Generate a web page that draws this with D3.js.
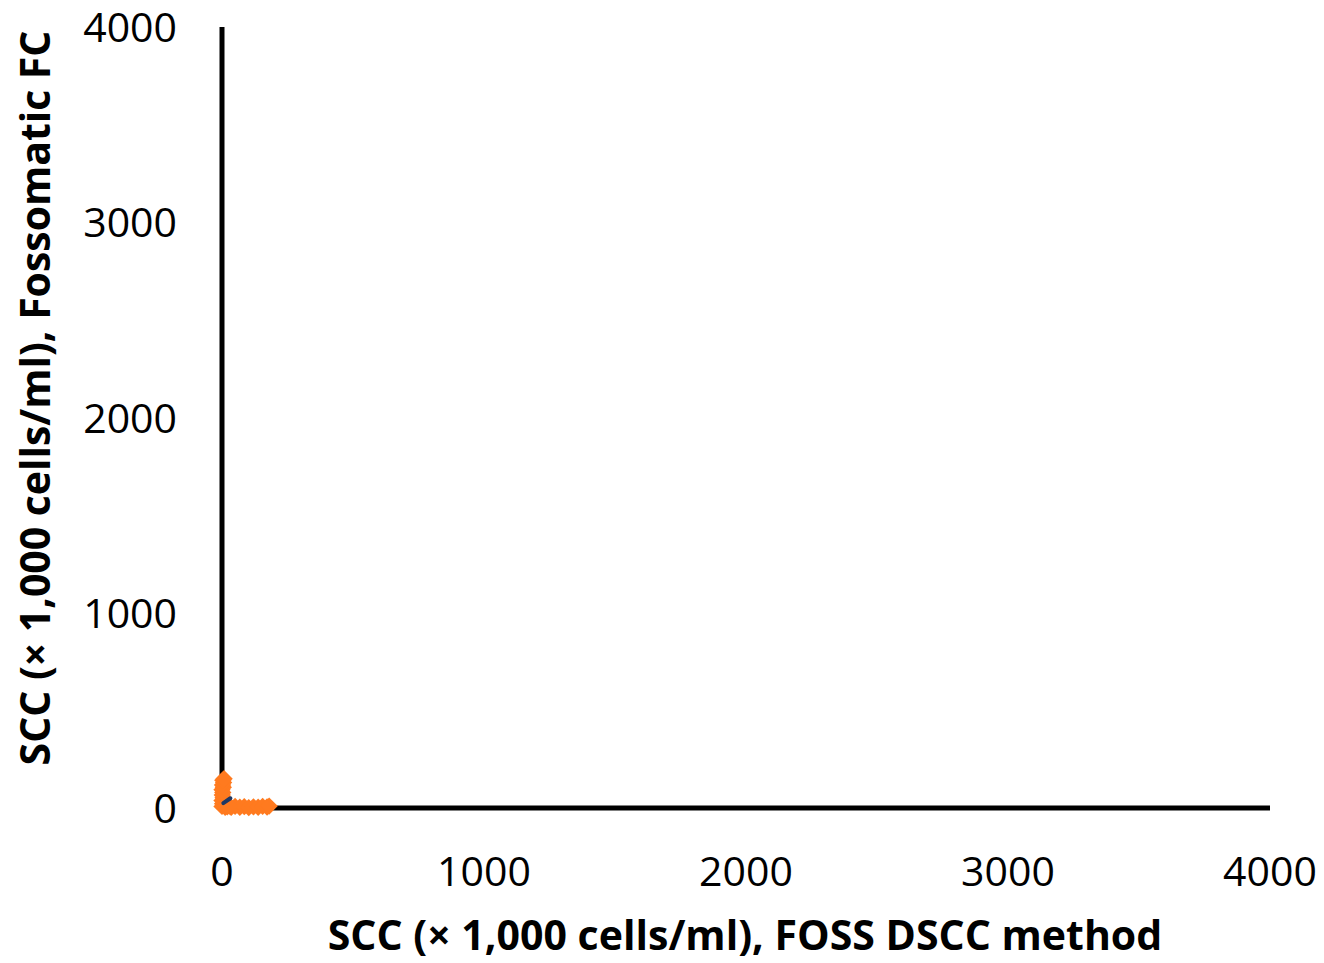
<!DOCTYPE html>
<html><head><meta charset="utf-8">
<script src="https://cdn.jsdelivr.net/npm/d3@7"></script>
<style>body{margin:0;background:#fff}svg{display:block}</style>
</head><body>
<svg id="c" width="1324" height="963"></svg>
<script>
const xTicks = [0, 1000, 2000, 3000, 4000];
const yTicks = [0, 1000, 2000, 3000, 4000];
const xTitle = "SCC (× 1,000 cells/ml), FOSS DSCC method";
const yTitle = "SCC (× 1,000 cells/ml), Fossomatic FC";
// Orange series (FOSS DSCC vs Fossomatic FC)
const dsccValues = [0, 2, 0, 4, 1, 3, 0, 5, 2, 6, 3, 8, 12, 20, 35, 50, 68, 85, 102, 120, 138, 155, 172, 180, 15, 28];
const fcValues   = [8, 22, 38, 52, 66, 80, 94, 106, 118, 130, 142, 150, 4, 6, 3, 8, 4, 7, 2, 6, 4, 8, 5, 10, 14, 10];
// Dark blue trend segment
const trendX = [5, 32];
const trendY = [25, 50];

const svg = d3.select("#c");
const x = d3.scaleLinear().domain([0, 4000]).range([222, 1270]);
const y = d3.scaleLinear().domain([0, 4000]).range([808, 27]);
const font = "'Open Sans', 'Noto Sans', sans-serif";

// tick labels
svg.append("g").selectAll("text").data(xTicks).join("text")
  .attr("x", d => x(d)).attr("y", 886).attr("text-anchor", "middle")
  .attr("font-family", font).attr("font-size", 41).attr("fill", "#000").text(d => d);
svg.append("g").selectAll("text").data(yTicks).join("text")
  .attr("x", 177).attr("y", d => y(d) + 15).attr("text-anchor", "end")
  .attr("font-family", font).attr("font-size", 41).attr("fill", "#000").text(d => d);

// axes lines
svg.append("line").attr("x1", x(0)).attr("x2", x(0)).attr("y1", y(4000)).attr("y2", y(0) + 2.5)
  .attr("stroke", "#000").attr("stroke-width", 5);
svg.append("line").attr("x1", x(0) - 2.5).attr("x2", x(4000)).attr("y1", y(0)).attr("y2", y(0))
  .attr("stroke", "#000").attr("stroke-width", 5);

// points: Excel-style diamonds (rotated squares)
const pts = dsccValues.map((d, i) => [d, fcValues[i]]);
const sym = d3.symbol().type(d3.symbolSquare).size(150);
svg.append("g").selectAll("path").data(pts).join("path")
  .attr("transform", d => `translate(${x(d[0])},${y(d[1])}) rotate(45)`)
  .attr("d", sym).attr("fill", "#ff7a1f");

// trend
svg.append("line").attr("x1", x(trendX[0])).attr("y1", y(trendY[0]))
  .attr("x2", x(trendX[1])).attr("y2", y(trendY[1]))
  .attr("stroke", "#1f3864").attr("stroke-width", 4).attr("stroke-linecap", "round");

// titles
function fit(sel, w) {
  const l = sel.node().getComputedTextLength();
  const fs = +sel.attr("font-size");
  sel.attr("font-size", fs * w / l);
}
const xt = svg.append("text").attr("x", 745).attr("y", 950).attr("text-anchor", "middle")
  .attr("font-family", font).attr("font-weight", "bold").attr("font-size", 36).text(xTitle);
fit(xt, 835);
const yt = svg.append("text").attr("transform", "translate(50,398) rotate(-90)").attr("text-anchor", "middle")
  .attr("font-family", font).attr("font-weight", "bold").attr("font-size", 36).text(yTitle);
fit(yt, 735);
</script>
</body></html>
